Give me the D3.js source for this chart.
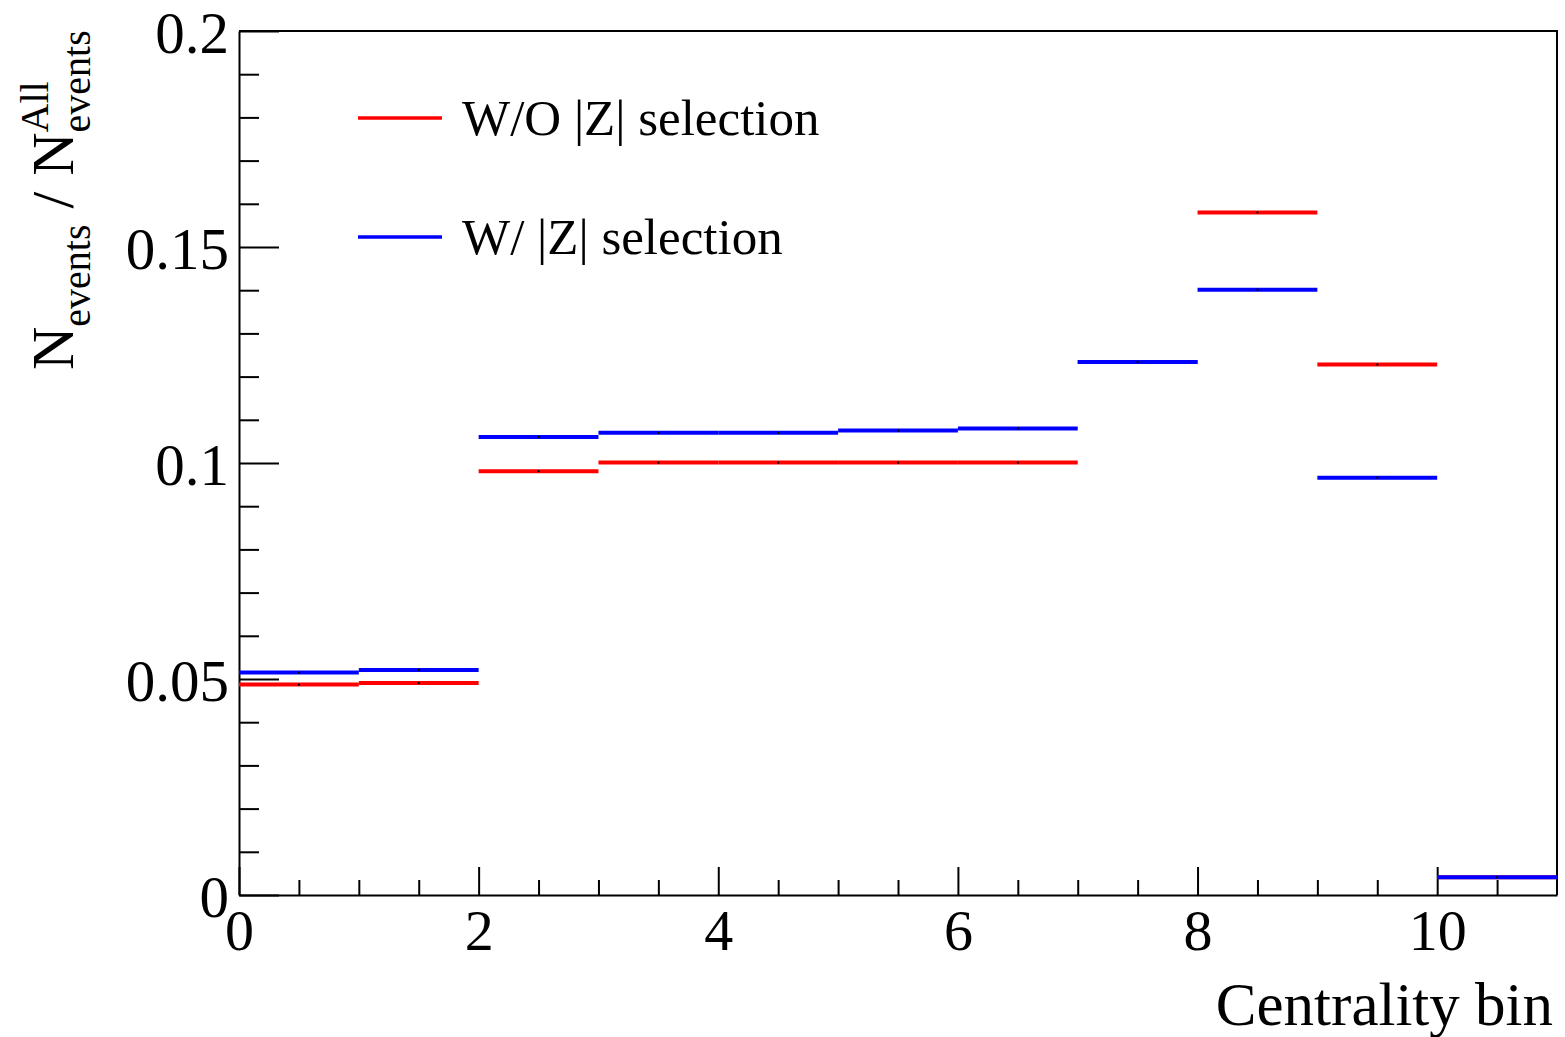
<!DOCTYPE html>
<html>
<head>
<meta charset="utf-8">
<script src="https://cdn.jsdelivr.net/npm/d3@7"></script>
<style>
  body { margin: 0; background: #fff; }
  text { font-family: "Liberation Serif", "Times New Roman", serif; fill: #000; }
</style>
</head>
<body>
<div class="chart"></div>
<script>
// bin lower edges (each bin is 1 wide)
var binEdges = [0, 1, 2, 3, 4, 5, 6, 7, 8, 9, 10];
// fraction of events per centrality bin
var withoutZ = [0.0487, 0.0491, 0.0981, 0.1001, 0.1001, 0.1001, 0.1001, 0.1234, 0.1580, 0.1228, 0.0041];
var withZ    = [0.0515, 0.0521, 0.1060, 0.1070, 0.1070, 0.1075, 0.1080, 0.1234, 0.1401, 0.0966, 0.0041];
var seriesNames = ["W/O |Z| selection", "W/ |Z| selection"];
var seriesColors = ["#ff0000", "#0000ff"];
var xMajorTicks = [0, 2, 4, 6, 8, 10];
var yMajorTicks = [0, 0.05, 0.1, 0.15, 0.2];

var svgWidth = 1565;
var svgHeight = 1037;
var margin = { top: 31, right: 8, bottom: 142, left: 239 };
var width = svgWidth - margin.left - margin.right;
var height = svgHeight - margin.top - margin.bottom;

var svg = d3.select(".chart")
  .append("svg")
  .attr("width", svgWidth)
  .attr("height", svgHeight);

var chartGroup = svg.append("g")
  .attr("transform", `translate(${margin.left}, ${margin.top})`);

var x = d3.scaleLinear().domain([0, 11]).range([0, width]);
var y = d3.scaleLinear().domain([0, 0.2]).range([height, 0]);

// frame (top + right)
chartGroup.append("path")
  .attr("d", `M0,0H${width}V${height}`)
  .attr("fill", "none")
  .attr("stroke", "#000")
  .attr("stroke-width", 2);

// minor ticks
var xMinor = d3.range(0.5, 11, 0.5).filter(v => v % 2 !== 0);
chartGroup.append("g")
  .attr("transform", `translate(0, ${height})`)
  .call(d3.axisBottom(x).tickValues(xMinor).tickSize(-15).tickFormat(""))
  .call(g => g.select(".domain").remove())
  .selectAll("line").attr("stroke-width", 2);

var yMinor = d3.range(0, 21).map(i => i / 100).filter(v => Math.round(v * 100) % 5 !== 0);
chartGroup.append("g")
  .call(d3.axisLeft(y).tickValues(yMinor).tickSize(-20).tickFormat(""))
  .call(g => g.select(".domain").remove())
  .selectAll("line").attr("stroke-width", 2);

// major axes
var xAxis = chartGroup.append("g")
  .attr("transform", `translate(0, ${height})`)
  .call(d3.axisBottom(x).tickValues(xMajorTicks).tickSize(-28).tickSizeOuter(0).tickPadding(14).tickFormat(d3.format("d")));
xAxis.select(".domain").attr("stroke-width", 2);
xAxis.selectAll("line").attr("stroke-width", 2);
xAxis.selectAll("text").style("font-size", "58px");

var yAxis = chartGroup.append("g")
  .call(d3.axisLeft(y).tickValues(yMajorTicks).tickSize(-40).tickSizeOuter(0).tickPadding(10).tickFormat(d => d === 0 ? "0" : String(d)));
yAxis.select(".domain").attr("stroke-width", 2);
yAxis.selectAll("line").attr("stroke-width", 2);
yAxis.selectAll("text").style("font-size", "59px").attr("dy", "0.36em");
d3.selectAll(".tick text").style("font-family", "'Liberation Serif', serif");

// data: horizontal segments per bin
[withoutZ, withZ].forEach(function(values, s) {
  var g = chartGroup.append("g");
  g.selectAll("line")
    .data(values)
    .enter()
    .append("line")
    .attr("x1", (d, i) => x(binEdges[i]))
    .attr("x2", (d, i) => x(binEdges[i] + 1))
    .attr("y1", d => y(d))
    .attr("y2", d => y(d))
    .attr("stroke", seriesColors[s])
    .attr("stroke-width", 4);
  g.selectAll("rect")
    .data(values)
    .enter()
    .append("rect")
    .attr("x", (d, i) => x(binEdges[i] + 0.5) - 1)
    .attr("y", d => y(d) - 1)
    .attr("width", 2)
    .attr("height", 2)
    .attr("fill", "#000");
});

// legend
var legend = svg.append("g");
seriesNames.forEach(function(name, i) {
  var ly = 118 + i * 119;
  legend.append("line")
    .attr("x1", 358).attr("x2", 442)
    .attr("y1", ly).attr("y2", ly)
    .attr("stroke", seriesColors[i])
    .attr("stroke-width", 3.5);
  legend.append("text")
    .attr("x", 462)
    .attr("y", ly + 17)
    .style("font-size", "51px")
    .text(name);
});

// x title
svg.append("text")
  .attr("x", 1553)
  .attr("y", 1025)
  .attr("text-anchor", "end")
  .style("font-size", "61px")
  .text("Centrality bin");

// y title: N_events / N^All_events
var yTitle = svg.append("g")
  .attr("transform", "translate(73, 370) rotate(-90)");
var pos = 0;
function piece(str, size, dyv) {
  var t = yTitle.append("text")
    .attr("x", pos)
    .attr("y", dyv)
    .style("font-size", size + "px")
    .text(str);
  return t.node().getComputedTextLength();
}
pos += piece("N", 60, 0);
pos += piece("events", 40, 17) + 16;
pos += piece("/", 60, 0) + 16;
pos += piece("N", 60, 0);
var supW = piece("All", 40, -25);
pos += Math.max(supW, piece("events", 40, 17));
</script>
</body>
</html>
